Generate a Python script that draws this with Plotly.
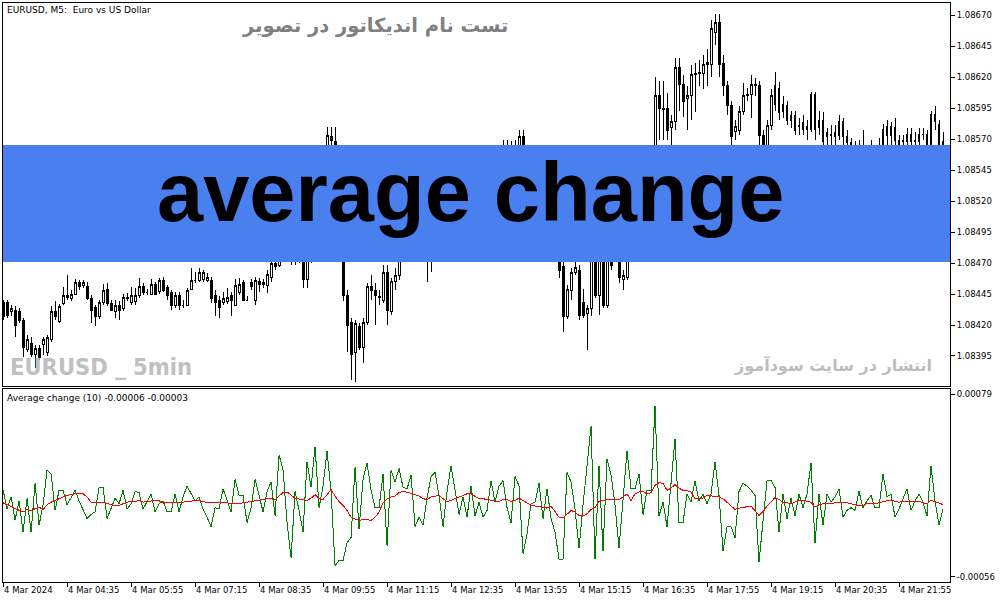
import plotly.graph_objects as go

W, H = 1003, 603

# ---------------- data ----------------
bar_index = list(range(236))  # 5-minute bars, first bar 03:15
tick_index = [0, 16, 32, 48, 64, 80, 96, 112, 128, 144, 160, 176, 192, 208, 224]
tick_labels = ["4 Mar 2024", "4 Mar 04:35", "4 Mar 05:55", "4 Mar 07:15", "4 Mar 08:35",
               "4 Mar 09:55", "4 Mar 11:15", "4 Mar 12:35", "4 Mar 13:55", "4 Mar 15:15",
               "4 Mar 16:35", "4 Mar 17:55", "4 Mar 19:15", "4 Mar 20:35", "4 Mar 21:55"]
price_ticks = [1.08395, 1.08420, 1.08445, 1.08470, 1.08495, 1.08520,
               1.08545, 1.08570, 1.08595, 1.08620, 1.08645, 1.08670]
ind_ticks = [0.00079, -0.00056]

open_pts = [438,438,431,432,431,424,400,405,396,401, 404,398,408,431,423,437,444,441,445,454,
            452,451,441,434,427,438,449,437,431,436, 433,442,438,439,444,451,446,445,453,447,
            456,450,446,436,444,436,436,449,456,456, 457,456,456,444,440,438,439,444,436,446,
            454,440,454,440,455,453,452,458,470,468, 474,485,481,489,482,481,457,477,489,505,
            521,553,572,568,549,529,444,422,398,419, 402,422,451,448,442,440,462,431,455,460,
            477,489,497,501,493,489,481,477,485,495, 490,501,509,503,513,521,517,525,521,531,
            527,537,533,543,549,555,561,557,561,561, 572,561,553,541,529,521,513,505,493,481,
            467,427,448,462,464,438,429,433,477,444, 477,436,481,471,477,457,458,481,497,509,
            525,537,549,561,605,595,595,579,584,628, 614,603,605,622,623,623,630,630,656,664,
            631,613,597,576,577,592,605,606,613,613, 573,565,581,598,611,592,597,585,589,580,
            583,580,578,606,579,585,572,573,572,573, 584,572,567,563,557,561,560,561,563,561,
            565,573,573,579,569,568,568,574,568,568, 574,574,565,590,582,568]
high_pts = [440,440,436,435,434,426,412,410,404,404, 410,412,435,439,437,451,460,448,457,456,
            456,455,444,436,440,453,454,440,440,439, 445,446,451,450,458,454,449,457,455,458,
            459,452,448,447,447,440,450,466,463,466, 464,462,459,448,443,447,450,447,457,458,
            456,443,457,459,458,457,464,474,477,481, 490,492,497,495,490,489,485,497,513,529,
            553,580,580,580,557,537,448,426,424,422, 426,454,460,454,448,468,468,458,466,485,
            497,503,509,509,501,495,489,490,498,501, 506,514,517,519,525,527,531,533,537,537,
            543,545,549,555,563,569,569,568,569,577, 577,564,557,545,533,525,517,509,497,485,
            471,452,466,471,468,449,436,482,481,485, 482,489,489,485,482,464,489,503,517,531,
            543,555,565,620,617,617,607,589,635,635, 622,613,630,631,634,638,643,666,671,671,
            638,617,601,585,597,615,611,622,619,617, 577,585,610,624,616,605,601,593,593,587,
            589,585,608,608,593,592,579,581,581,589, 587,577,571,568,569,577,565,569,565,571,
            582,585,584,587,573,573,579,579,576,579, 579,577,593,597,585,576]
low_pts = [424,426,427,410,422,394,398,394,385,392, 396,395,406,424,422,436,440,439,444,448,
           450,440,422,419,425,436,435,431,426,424, 431,439,436,436,442,444,444,444,444,445,
           447,440,432,434,432,434,435,448,454,455, 455,455,438,427,426,436,437,427,435,444,
           439,439,448,436,447,450,446,455,464,467, 472,471,468,468,470,450,450,470,485,501,
           517,549,561,545,521,439,398,376,374,400, 389,420,440,420,436,438,420,428,448,456,
           471,477,489,485,481,474,455,463,481,485, 487,497,498,500,509,513,513,517,517,522,
           525,529,529,539,545,549,553,553,555,557, 557,549,537,525,513,509,498,489,477,458,
           414,425,440,460,424,426,400,427,442,428, 434,434,464,471,454,448,456,477,489,503,
           521,533,545,553,569,569,569,565,577,593, 588,577,585,592,613,610,613,620,646,620,
           605,589,565,569,573,589,601,587,605,565, 561,561,577,593,585,587,581,579,573,573,
           573,569,576,569,573,563,565,565,565,569, 565,561,557,549,553,553,553,555,555,557,
           561,565,565,565,561,563,563,563,565,563, 569,561,563,577,561,557]
close_pts = [427,428,433,420,424,402,408,396,401,394, 408,410,431,427,435,444,442,445,454,451,
             454,441,432,427,438,448,437,432,436,432, 442,441,444,444,451,446,446,453,445,456,
             448,444,436,444,436,436,448,456,456,462, 462,458,441,438,434,441,442,440,452,453,
             440,440,451,456,453,454,461,470,467,474, 485,481,489,482,477,457,477,489,505,521,
             545,573,569,549,529,444,420,396,421,402, 422,451,448,444,443,462,432,455,460,477,
             489,497,501,493,489,481,477,485,495,490, 501,509,503,513,521,517,525,521,531,527,
             537,533,543,549,555,561,557,561,563,572, 561,553,541,529,521,513,505,493,481,464,
             427,449,462,466,428,428,433,477,444,477, 436,481,468,477,458,460,481,497,509,525,
             537,549,561,605,595,594,577,584,628,614, 600,605,622,623,624,630,632,659,664,630,
             613,597,572,580,592,605,606,614,614,573, 565,581,605,613,591,598,585,589,577,581,
             578,578,606,578,585,568,575,574,575,584, 572,567,563,557,561,560,561,563,561,565,
             578,580,580,569,565,569,574,568,569,574, 574,565,590,584,565,563]

# prices are quoted as 1.08xxx
price_open = [1.08 + p / 1e5 for p in open_pts]
price_high = [1.08 + p / 1e5 for p in high_pts]
price_low = [1.08 + p / 1e5 for p in low_pts]
price_close = [1.08 + p / 1e5 for p in close_pts]

POINT = 0.00001
change_pts = [8,-6,3,-14,0,-23,2,-23,13,-18, -3,23,20,-7,8,8,-3,3,8,0,
              -6,-13,-10,-8,10,10,-13,-6,2,-2, 8,-6,-2,7,6,-6,0,5,-8,-2,
              0,-8,-8,5,-8,3,11,6,0,3, -6,-12,-19,-5,-6,9,0,-8,16,4,
              4,-16,-5,16,4,-8,7,14,-11,34, 23,-16,-42,7,-7,-23,29,10,40,-5,
              11,37,7,-48,-44,-44,-31,-27,25,-21, 16,28,8,-5,-5,20,-33,23,14,24,
              10,9,19,-19,-12,-18,2,18,21,4, -19,7,26,7,-10,3,-12,11,-11,-1,
              -12,-7,15,-1,11,15,-5,-16,18,11, -39,-24,-2,-1,13,-13,9,-13,-23,-43,
              -43,21,14,-6,-35,-3,25,55,-43,26, -37,31,19,-3,-35,4,37,9,9,20,
              -10,8,8,70,-11,-1,-19,13,46,-16, -16,5,-1,15,0,5,-2,5,29,4,
              -37,-19,-19,-27,7,13,11,8,4,-45, -14,15,15,10,-23,5,-13,2,-11,5,
              -5,5,28,-31,5,-18,5,-1,3,9, -12,-7,-5,-7,7,-5,0,4,-5,-5,
              20,3,5,-12,-6,2,9,-7,0,5, -1,-11,26,0,-18,-6]
signal_pts = [-1.4,-2.8,-4.6,-5.8,-7.0,-8.3,-6.3,-7.0,-5.8,-4.6,
              -6.3,-2.8,-0.9,0.4,1.6,2.9,4.1,4.6,5.3,5.3,
              5.3,2.9,-0.9,-1.4,-1.4,-0.9,-1.9,-2.8,-3.3,-3.3,
              -1.9,-0.9,-0.4,0.1,0.1,-0.9,-0.4,0.4,0.4,0.1,
              -1.4,-1.4,-1.4,-1.4,-1.1,-0.9,-0.4,-0.2,0.1,0.4,
              -0.6,-1.1,-1.4,-1.4,-1.4,-0.9,-1.4,-2.1,-2.1,-1.9,
              -1.4,-0.9,-0.4,0.4,1.1,1.4,1.6,1.6,0.6,3.6,
              6.1,6.6,4.6,2.1,1.4,0.9,0.4,2.1,4.6,1.6,
              1.1,4.6,8.5,3.6,-0.4,-3.3,-7.0,-12.0,-13.2,-14.5,
              -13.7,-13.7,-14.5,-12.0,-8.3,-1.4,1.6,2.9,3.6,6.1,
              7.1,6.6,5.6,4.6,3.6,1.6,1.1,2.9,3.6,4.1,
              1.6,-0.4,0.4,1.6,2.9,4.6,5.3,5.3,3.6,1.6,
              1.6,1.1,0.4,-0.2,-0.4,0.9,1.1,-0.4,0.4,2.1,
              0.4,-1.4,-3.3,-3.8,-4.3,-4.8,-5.3,-3.8,-7.8,-12.0,
              -12.7,-9.5,-7.0,-8.3,-10.7,-11.2,-9.5,-6.3,-4.8,-0.4,
              0.6,1.1,1.1,1.1,1.1,2.9,5.3,0.4,5.3,6.6,
              7.1,5.1,6.1,11.5,13.5,13.0,7.8,9.5,12.0,9.5,
              7.8,7.6,6.6,1.6,1.6,2.1,4.1,3.6,2.9,2.9,
              1.6,-0.9,-3.8,-6.3,-5.3,-4.6,-4.3,-3.8,-7.0,-10.7,
              -7.8,-3.8,-0.9,2.6,1.1,-0.9,-1.4,-2.1,-0.9,0.1,
              0.4,-0.2,-0.9,-4.6,-2.8,-2.1,-2.1,-1.9,-1.4,-1.4,
              -1.4,-1.4,-2.1,-2.8,-3.3,-3.3,-2.1,-2.1,-2.1,-1.4,
              -0.4,0.1,0.4,-0.4,-0.9,-0.4,-0.6,-0.9,-0.6,-0.4,
              -1.4,-2.1,0.4,-0.4,-1.4,-2.8]
change_vals = [v * POINT for v in change_pts]
signal_vals = [v * POINT for v in signal_pts]

# ---------------- figure ----------------
def fx(px):
    return px / W

def fy(py):
    return 1 - py / H

UI_FONT = "DejaVu Sans"
TICK_SIZE = 8.5

fig = go.Figure()
fig.add_trace(go.Candlestick(
    x=bar_index, open=price_open, high=price_high, low=price_low, close=price_close,
    increasing=dict(line=dict(color="black", width=1), fillcolor="white"),
    decreasing=dict(line=dict(color="black", width=1), fillcolor="black"),
    whiskerwidth=0, hoverinfo="skip", xaxis="x", yaxis="y", showlegend=False))
fig.add_trace(go.Scatter(x=bar_index, y=change_vals, mode="lines",
                         line=dict(color="#008000", width=1), hoverinfo="skip",
                         xaxis="x2", yaxis="y2", showlegend=False))
fig.add_trace(go.Scatter(x=bar_index, y=signal_vals, mode="lines",
                         line=dict(color="#ff0000", width=1), hoverinfo="skip",
                         xaxis="x2", yaxis="y2", showlegend=False))

axis_common = dict(showline=True, mirror=True, linecolor="black", linewidth=1,
                   showgrid=False, zeroline=False, fixedrange=True, automargin=False,
                   tickfont=dict(family=UI_FONT, size=TICK_SIZE, color="black"),
                   tickcolor="black", ticklen=4)

X_RANGE = [-0.02, 236.75]

fig.update_layout(
    width=W, height=H, margin=dict(l=0, r=0, t=0, b=0, autoexpand=False),
    paper_bgcolor="white", plot_bgcolor="white",
    xaxis=dict(domain=[fx(3), fx(950)], range=X_RANGE, anchor="y",
               showticklabels=False, ticks="", rangeslider=dict(visible=False),
               **axis_common),
    yaxis=dict(domain=[fy(386), fy(3)], range=[1.083708, 1.086797], side="right",
               anchor="x", ticks="outside", tickvals=price_ticks,
               ticktext=["%.5f" % v for v in price_ticks], **axis_common),
    xaxis2=dict(domain=[fx(3), fx(950)], range=X_RANGE, anchor="y2",
                ticks="outside", tickvals=tick_index, ticktext=tick_labels,
                ticklabelposition="outside right", **axis_common),
    yaxis2=dict(domain=[fy(582), fy(389)], range=[-0.000599, 0.000827], side="right",
                anchor="x2", ticks="outside", tickvals=ind_ticks,
                ticktext=["0.00079", "-0.00056"], **axis_common),
)

fig.add_shape(type="rect", xref="paper", yref="paper",
              x0=fx(3), x1=fx(950), y0=fy(262), y1=fy(145),
              fillcolor="#4a7ff0", line=dict(width=0), layer="above")

annotations = [
    dict(text="EURUSD, M5:  Euro vs US Dollar", x=fx(5), y=fy(10), xanchor="left",
         yanchor="middle", font=dict(family=UI_FONT, size=9, color="black")),
    dict(text="<b>تست نام اندیکاتور در تصویر</b>", x=fx(510), y=fy(25), xanchor="right",
         yanchor="middle", font=dict(family="DejaVu Sans", size=19.5, color="#808080")),
    dict(text="<b>EURUSD _ 5min</b>", x=fx(8), y=fy(367), xanchor="left",
         yanchor="middle",
         font=dict(family="Liberation Sans Narrow, DejaVu Sans Condensed, Liberation Sans",
                   size=23.5, color="#c0c0c0")),
    dict(text="<b>انتشار در سایت سودآموز</b>", x=fx(934), y=fy(365), xanchor="right",
         yanchor="middle", font=dict(family="DejaVu Sans", size=16, color="#bdbdbd")),
    dict(text="Average change (10) -0.00006 -0.00003", x=fx(5), y=fy(398), xanchor="left",
         yanchor="middle", font=dict(family=UI_FONT, size=9, color="black")),
    dict(text="<b>average change</b>", x=fx(470), y=fy(192), xanchor="center",
         yanchor="middle", font=dict(family="Liberation Sans", size=83, color="black")),
]
for a in annotations:
    fig.add_annotation(xref="paper", yref="paper", showarrow=False, **a)

page_css = ("var s=document.createElement('style');"
            "s.innerHTML='html,body{margin:0;padding:0;overflow:hidden}"
            " .boxlayer path,.scatterlayer path{shape-rendering:crispEdges}';"
            "document.head.appendChild(s);")
fig.write_html("out.html", post_script=page_css, config={"displayModeBar": False})
